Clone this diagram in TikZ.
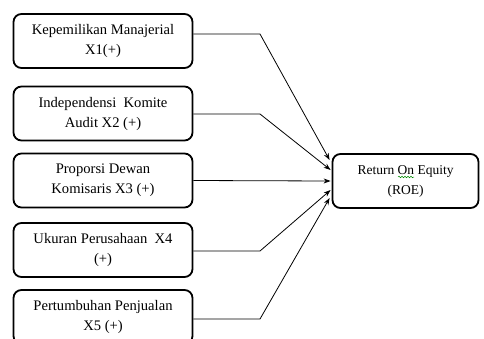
\documentclass[tikz,border=0pt]{standalone}
\usepackage{fontspec}
\setmainfont{Liberation Serif}
\usetikzlibrary{arrows.meta,decorations.pathmorphing}
\begin{document}
\begin{tikzpicture}[x=1pt,y=-1pt,
  varbox/.style={draw=black,line width=1.8pt,rounded corners=8pt,minimum width=179pt,minimum height=54pt,align=center,inner sep=2pt,font=\fontsize{14.6}{20}\selectfont,fill=white},
  roebox/.style={varbox,minimum width=146pt,font=\fontsize{13.5}{20}\selectfont},
  conn/.style={draw=black,line width=0.8pt,-{Stealth[length=7pt,width=5pt]}}]
\useasboundingbox (0,0) rectangle (484,338);
\clip (0,0) rectangle (484,338);
\fill[white] (0,0) rectangle (484,338);
\node[varbox] (b1) at (103,41) {Kepemilikan Manajerial\\X1(+)};
\node[varbox] (b2) at (103,113.5) {Independensi\ \ Komite\\Audit X2 (+)};
\node[varbox] (b3) at (103,180.5) {Proporsi Dewan\\Komisaris X3 (+)};
\node[varbox] (b4) at (103,250) {Ukuran Perusahaan\ \ X4\\(+)};
\node[varbox] (b5) at (103,317) {Pertumbuhan Penjualan\\X5 (+)};
\node[roebox] (roe) at (405.5,181) {Return On Equity\\(ROE)};
\coordinate (k1) at (260,34);
\coordinate (k2) at (260,114);
\coordinate (k4) at (260,251);
\coordinate (k5) at (260,319);
\draw[conn] ([yshift=7pt]b1.east) -- (k1) -- ([xshift=-2pt,yshift=21pt]roe.west);
\draw[conn] (b2.east |- k2) -- (k2) -- ([xshift=-1pt,yshift=11pt]roe.west);
\draw[conn] (b3.east) -- ([xshift=-1pt]roe.west);
\draw[conn] (b4.east |- k4) -- (k4) -- ([xshift=-1pt,yshift=-9pt]roe.west);
\draw[conn] (b5.east |- k5) -- (k5) -- ([xshift=-2pt,yshift=-17pt]roe.west);
\coordinate (sq1) at (398,177);
\coordinate (sq2) at (414,177);
\draw[green!55!black,line width=0.5pt,decorate,decoration={snake,amplitude=0.8pt,segment length=3pt}] (sq1) -- (sq2);
\end{tikzpicture}
\end{document}
